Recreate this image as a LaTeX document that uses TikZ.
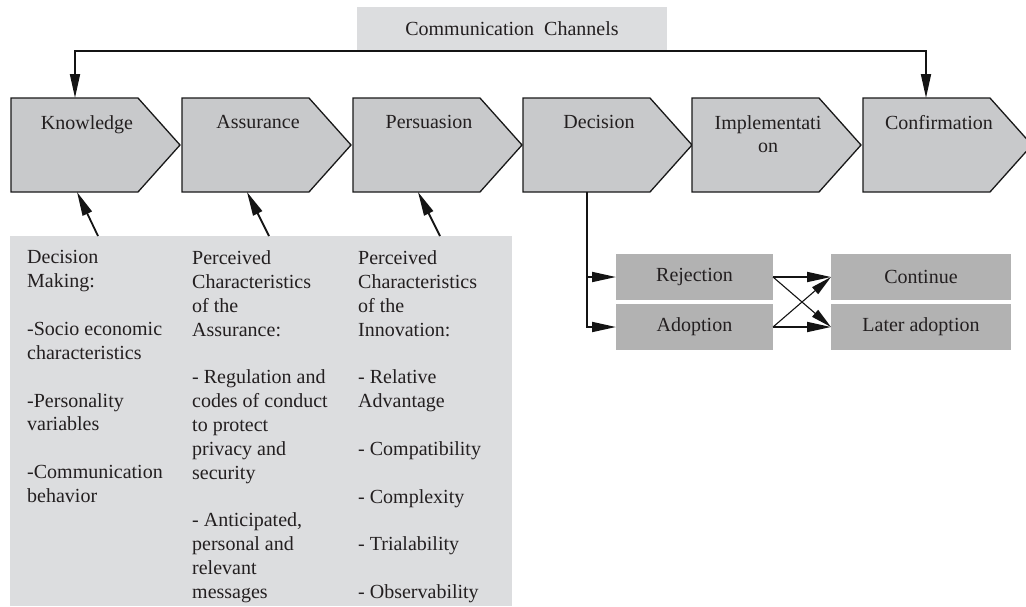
\documentclass[tikz,border=0pt]{standalone}
\usepackage{fontspec}
\setmainfont{Liberation Serif}
\usetikzlibrary{arrows.meta,shapes.symbols}
\definecolor{lightbg}{RGB}{220,221,223}
\definecolor{chevfill}{RGB}{200,201,203}
\definecolor{boxfill}{RGB}{178,178,178}
\definecolor{txt}{RGB}{35,31,32}
\begin{document}
\begin{tikzpicture}[x=1pt,y=-1pt,
  every node/.style={text=txt},
  txtfont/.style={font=\fontsize{20pt}{23.85pt}\selectfont},
  chev/.style={signal, signal to=east, signal pointer angle=96.4, draw=black!90,
    line width=1.3pt, fill=chevfill, minimum width=169pt, minimum height=94pt,
    inner sep=0pt, outer sep=0pt, anchor=west},
  lbl/.style={txtfont, anchor=north, inner sep=0pt, align=center},
  col/.style={txtfont, anchor=north west, inner sep=0pt, align=left},
  flat/.style={txtfont, fill=#1, inner sep=0pt, outer sep=0pt},
  arr/.style={-{Triangle[length=24pt,width=10pt]}, line width=1.8pt, black!92},
  thinarr/.style={-{Triangle[length=21pt,width=9pt]}, line width=1.1pt, black!92},
]
\useasboundingbox (0,0) rectangle (1026,606);

% background boxes
\node[flat=lightbg, minimum width=310pt, minimum height=44pt] (cc) at (512,29) {Communication\ \ Channels};
\node[flat=lightbg, minimum width=502pt, minimum height=370pt, anchor=north west] (info) at (10,236) {};

% chevrons
\node[chev] (k)   at (11,145)  {};
\node[chev] (as)  at (182,145) {};
\node[chev] (per) at (353,145) {};
\node[chev] (dec) at (523,145) {};
\node[chev] (imp) at (692,145) {};
\node[chev] (con) at (863,145) {};

\node[lbl] at ([xshift=76pt,yshift=30pt]k.west)   {Knowledge};
\node[lbl] at ([xshift=76pt,yshift=30pt]as.west)  {Assurance};
\node[lbl] at ([xshift=76pt,yshift=30pt]per.west) {Persuasion};
\node[lbl] at ([xshift=76pt,yshift=30pt]dec.west) {Decision};
\node[lbl] at ([xshift=76pt,yshift=30pt]imp.west) {Implementati\\on};
\node[lbl] at ([xshift=76pt,yshift=30pt]con.west) {Confirmation};

% communication channel arrows
\draw[arr] (cc.south) -| ([xshift=64pt,yshift=47pt]k.west);
\draw[arr] (cc.south) -| ([xshift=63pt,yshift=47pt]con.west);

% info columns
\node[col] (c1) at (27,250.5) {Decision\\Making:\\~\\-Socio economic\\characteristics\\~\\-Personality\\variables\\~\\-Communication\\behavior};
\node[col] (c2) at (192,250.5) {Perceived\\Characteristics\\of the\\Assurance:\\~\\- Regulation and\\codes of conduct\\to protect\\privacy and\\security\\~\\- Anticipated,\\personal and\\relevant\\messages};
\node[col] (c3) at (358,250.5) {Perceived\\Characteristics\\of the\\Innovation:\\~\\- Relative\\Advantage\\~\\- Compatibility\\~\\- Complexity\\~\\- Trialability\\~\\- Observability};

\draw[arr] ([xshift=88pt]info.north west)  -- ([xshift=66pt,yshift=-47pt]k.west);
\draw[arr] ([xshift=259pt]info.north west) -- ([xshift=65pt,yshift=-47pt]as.west);
\draw[arr] ([xshift=430pt]info.north west) -- ([xshift=65pt,yshift=-47pt]per.west);

% decision outcomes
\node[flat=boxfill, minimum width=157pt, minimum height=46pt] (rej)   at (694.5,277) {Rejection};
\node[flat=boxfill, minimum width=157pt, minimum height=46pt] (adop)  at (694.5,327) {Adoption};
\node[flat=boxfill, minimum width=180pt, minimum height=46pt] (cont)  at (921,277) {Continue};
\node[flat=boxfill, minimum width=180pt, minimum height=46pt] (later) at (921,327) {Later adoption};

\draw[arr] ([xshift=64pt,yshift=-47pt]dec.west) |- (rej.west);
\draw[arr] ([xshift=64pt,yshift=-47pt]dec.west) |- (adop.west);

\draw[arr] (rej.east) -- (cont.west);
\draw[arr] (adop.east) -- (later.west);
\draw[thinarr] (rej.east) -- (later.west);
\draw[thinarr] (adop.east) -- (cont.west);
\end{tikzpicture}
\end{document}
